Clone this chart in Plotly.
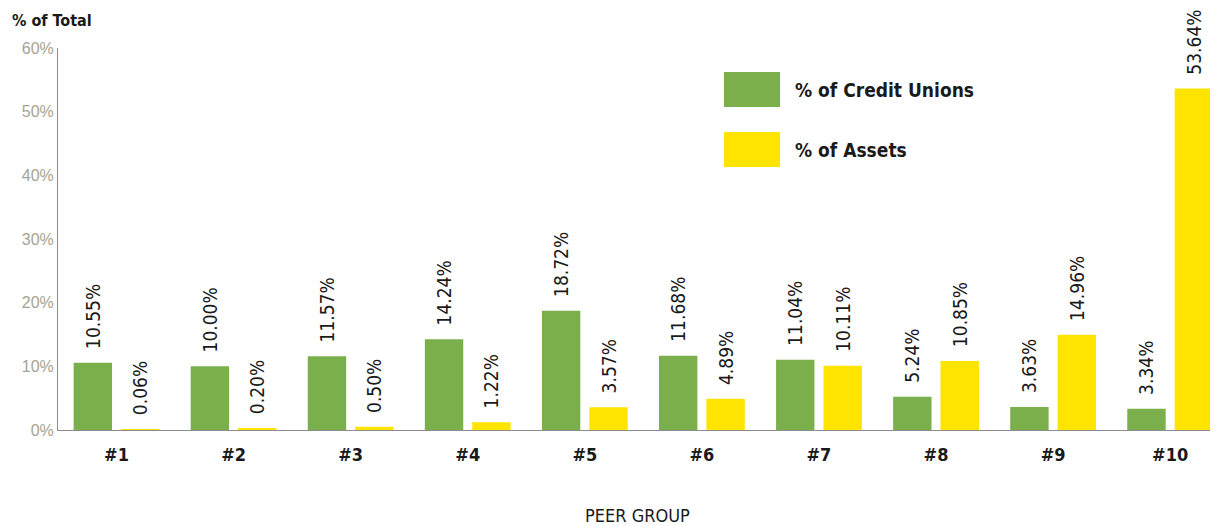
import plotly.graph_objects as go

peer_groups = ["#1", "#2", "#3", "#4", "#5", "#6", "#7", "#8", "#9", "#10"]
pct_credit_unions = [10.55, 10.00, 11.57, 14.24, 18.72, 11.68, 11.04, 5.24, 3.63, 3.34]
pct_assets = [0.06, 0.20, 0.50, 1.22, 3.57, 4.89, 10.11, 10.85, 14.96, 53.64]
y_ticks = [0, 10, 20, 30, 40, 50, 60]

GREEN = "#7BAF4C"
YELLOW = "#FFE400"
NARROW = "DejaVu Sans Condensed, Liberation Sans Narrow, sans-serif"

fig = go.Figure()

# barres, avec l'étiquette de valeur tournée au-dessus
for name, vals, col in [("% of Credit Unions", pct_credit_unions, GREEN),
                        ("% of Assets", pct_assets, YELLOW)]:
    fig.add_trace(go.Bar(
        name=name,
        x=peer_groups,
        y=vals,
        marker_color=col,
        marker_line_width=0,
        text=vals,
        texttemplate="\u00a0\u00a0%{y:.2f}%",
        textposition="outside",
        textangle=-90,
        constraintext="none",
        textfont=dict(family=NARROW, size=19, color="#1a1a1a"),
        cliponaxis=False,
    ))

# légende dessinée à la main (grands carrés)
legend_items = [("% of Credit Unions", GREEN, 0.937, 0.8455),
                ("% of Assets", YELLOW, 0.780, 0.6885)]
for label, col, y1, y0 in legend_items:
    fig.add_shape(type="rect", xref="paper", yref="paper",
                  x0=0.5746, x1=0.623, y0=y0, y1=y1,
                  fillcolor=col, line_width=0)
    fig.add_annotation(text="<b>%s</b>" % label, xref="paper", yref="paper",
                       x=0.634, y=(y0 + y1) / 2, xanchor="left", yanchor="middle",
                       showarrow=False,
                       font=dict(family=NARROW, size=19, color="#1a1a1a"))

# titre de l'axe y
fig.add_annotation(text="<b>% of Total</b>", xref="paper", yref="paper",
                   x=-0.0414, y=1.071, xanchor="left", yanchor="middle",
                   showarrow=False,
                   font=dict(family=NARROW, size=16, color="#1a1a1a"))

# la page ajoute 8px de marge autour du graphique : on compense
fig.update_layout(
    width=1210, height=518,
    margin=dict(l=50, r=1, t=40, b=96),
    paper_bgcolor="white",
    plot_bgcolor="white",
    barmode="group",
    bargap=0.19,
    bargroupgap=0.19,
    showlegend=False,
)
fig.update_xaxes(
    range=[-0.5, 9.4],
    showline=True, linecolor="#8c8c8c", linewidth=1,
    showgrid=False, ticks="",
    ticklabelstandoff=8,
    tickfont=dict(family=NARROW, size=18, color="#1a1a1a"),
    tickprefix="<b>", ticksuffix="</b>",
    title=dict(text="PEER GROUP", standoff=48,
               font=dict(family=NARROW, size=18, color="#1a1a1a")),
)
fig.update_yaxes(
    range=[0, 60],
    tickvals=y_ticks,
    ticktext=["%d%%" % v for v in y_ticks],
    showline=True, linecolor="#8c8c8c", linewidth=1,
    showgrid=False, zeroline=False, ticks="",
    tickfont=dict(family="Liberation Sans, Arial, sans-serif", size=16, color="#a5a493"),
)

fig.write_html("out.html")
